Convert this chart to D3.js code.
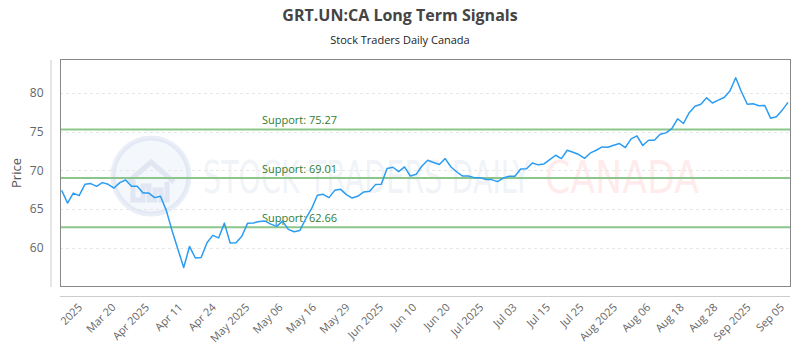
<!DOCTYPE html>
<html>
<head>
<meta charset="utf-8">
<script src="https://cdn.jsdelivr.net/npm/d3@7"></script>
<style>
  body { margin: 0; background: #fff; }
  svg { display: block; font-family: "Open Sans", sans-serif; }
</style>
</head>
<body>
<div id="chart"></div>
<script>
// closing prices, one per trading day
var prices = [
  67.41, 65.77, 67.06, 66.73, 68.19, 68.28, 67.93, 68.41, 68.19, 67.71,
  68.41, 68.75, 67.93, 67.93, 67.06, 67.06, 66.47, 66.64, 64.83, 62.2,
  59.8, 57.45, 60.17, 58.68, 58.74, 60.64, 61.6, 61.27, 63.18, 60.6,
  60.64, 61.48, 63.18, 63.2, 63.4, 63.44, 63.05, 62.76, 63.44, 62.37,
  62.07, 62.24, 63.75, 65.04, 66.77, 66.9, 66.47, 67.41, 67.54, 66.86,
  66.42, 66.68, 67.2, 67.28, 68.15, 68.19, 70.22, 70.39, 69.83, 70.43,
  69.26, 69.48, 70.56, 71.29, 71.0, 70.74, 71.51, 70.43, 69.78, 69.26,
  69.26, 69.05, 69.05, 68.8, 68.8, 68.54, 69.0, 69.22, 69.22, 70.16,
  70.2, 70.95, 70.7, 70.82, 71.38, 71.94, 71.51, 72.59, 72.33, 72.03,
  71.55, 72.24, 72.59, 73.01, 72.98, 73.23, 73.45, 72.94, 74.05, 74.44,
  73.2, 73.88, 73.88, 74.66, 74.83, 75.39, 76.65, 76.04, 77.43, 78.26,
  78.52, 79.35, 78.69, 79.06, 79.4, 80.24, 81.94, 80.1, 78.52, 78.58,
  78.32, 78.37, 76.73, 76.9, 77.76, 78.76
];

var xLabels = ["2025", "Mar 20", "Apr 2025", "Apr 11", "Apr 24", "May 2025", "May 06",
  "May 16", "May 29", "Jun 2025", "Jun 10", "Jun 20", "Jul 2025", "Jul 03", "Jul 15",
  "Jul 25", "Aug 2025", "Aug 06", "Aug 18", "Aug 28", "Sep 2025", "Sep 05"];

var yTicks = [60, 65, 70, 75, 80];

var supports = [75.27, 69.01, 62.66];

function drawChart() {
  var width = 800,
    height = 350,
    plotLeft = 60, plotRight = 790, plotTop = 59.5, plotBottom = 286.5;

  var svg = d3.select("#chart").append("svg")
    .attr("width", width)
    .attr("height", height);

  var x = d3.scaleLinear()
    .domain([0, prices.length - 1])
    .range([plotLeft + 1.7, plotRight - 2]);

  var xLab = d3.scalePoint()
    .domain(xLabels)
    .range([83, 785]);

  var y = d3.scaleLinear()
    .domain([55.0, 84.3])
    .range([plotBottom, plotTop]);

  // titles
  svg.append("text")
    .attr("x", width / 2)
    .attr("y", 21)
    .attr("text-anchor", "middle")
    .style("font-size", "16px")
    .style("font-weight", "bold")
    .style("fill", "#444")
    .text("GRT.UN:CA Long Term Signals");

  svg.append("text")
    .attr("x", width / 2)
    .attr("y", 44)
    .attr("text-anchor", "middle")
    .style("font-size", "11px")
    .style("fill", "#222")
    .text("Stock Traders Daily Canada");

  // watermark
  var wm = svg.append("g").attr("class", "watermark");
  wm.append("circle")
    .attr("cx", 151).attr("cy", 176).attr("r", 38)
    .attr("fill", "rgba(228,234,246,0.4)")
    .attr("stroke", "rgba(200,212,235,0.4)")
    .attr("stroke-width", 5);
  wm.append("path")
    .attr("d", "M128,182 L151,162 L174,182 M133,180 v20 h10 v-14 h6 v14 h6 v-10 h6 v10 h6 v-18")
    .attr("fill", "none")
    .attr("stroke", "rgba(200,210,230,0.45)")
    .attr("stroke-width", 5);
  wm.append("text")
    .attr("x", 203).attr("y", 193)
    .attr("textLength", 327)
    .attr("lengthAdjust", "spacingAndGlyphs")
    .style("font-size", "44px")
    .style("font-family", "'DejaVu Sans Condensed', 'DejaVu Sans', sans-serif")
    .style("fill", "rgba(205,214,232,0.3)")
    .text("STOCK TRADERS DAILY");
  wm.append("text")
    .attr("x", 545).attr("y", 193)
    .attr("textLength", 154)
    .attr("lengthAdjust", "spacingAndGlyphs")
    .style("font-size", "44px")
    .style("font-family", "'DejaVu Sans', sans-serif")
    .style("fill", "rgba(255,175,175,0.25)")
    .text("CANADA");

  // grid
  svg.append("g")
    .selectAll("line")
    .data(yTicks)
    .enter().append("line")
    .attr("x1", plotLeft).attr("x2", plotRight)
    .attr("y1", function(d) { return Math.round(y(d)) + 0.5; })
    .attr("y2", function(d) { return Math.round(y(d)) + 0.5; })
    .attr("stroke", "#e6e6e6")
    .attr("stroke-dasharray", "3,3");

  // plot frame
  svg.append("rect")
    .attr("x", plotLeft + 0.5).attr("y", plotTop)
    .attr("width", plotRight - plotLeft).attr("height", plotBottom - plotTop)
    .attr("fill", "none")
    .attr("stroke", "#888");

  // y axis
  var yAxis = svg.append("g")
    .attr("transform", "translate(50.5,0)")
    .call(d3.axisLeft(y).tickValues(yTicks).tickSize(0).tickPadding(7));
  yAxis.select(".domain").attr("stroke", "#ccc");
  yAxis.selectAll("text").style("font-size", "12px").style("fill", "#666")
    .style("font-family", "'Open Sans', sans-serif");

  svg.append("text")
    .attr("transform", "translate(21," + (plotTop + plotBottom) / 2 + ") rotate(-90)")
    .attr("text-anchor", "middle")
    .style("font-size", "13px")
    .style("fill", "#555")
    .text("Price");

  // x axis
  svg.append("line")
    .attr("x1", plotLeft).attr("x2", plotRight)
    .attr("y1", 296.5).attr("y2", 296.5)
    .attr("stroke", "#ccc");

  svg.append("g")
    .selectAll("text")
    .data(xLabels)
    .enter().append("text")
    .attr("transform", function(d) { return "translate(" + xLab(d) + ",308) rotate(-45)"; })
    .attr("text-anchor", "end")
    .style("font-size", "11px")
    .style("fill", "#666")
    .text(function(d) { return d; });

  // support levels
  var sup = svg.append("g");
  sup.selectAll("line")
    .data(supports)
    .enter().append("line")
    .attr("x1", plotLeft + 1).attr("x2", plotRight)
    .attr("y1", function(d) { return y(d); })
    .attr("y2", function(d) { return y(d); })
    .attr("stroke", "#8cc68c")
    .attr("stroke-width", 2);
  sup.selectAll("text")
    .data(supports)
    .enter().append("text")
    .attr("x", 262)
    .attr("y", function(d) { return y(d) - 5; })
    .style("font-size", "11px")
    .style("fill", "#2e7d32")
    .text(function(d) { return "Support: " + d3.format(".2f")(d); });

  // price line
  var line = d3.line()
    .x(function(d, i) { return x(i); })
    .y(function(d) { return y(d); });

  svg.append("path")
    .datum(prices)
    .attr("fill", "none")
    .attr("stroke", "#2b9cf2")
    .attr("stroke-width", 1.5)
    .attr("stroke-linejoin", "round")
    .attr("d", line);
}

drawChart();
</script>
</body>
</html>
